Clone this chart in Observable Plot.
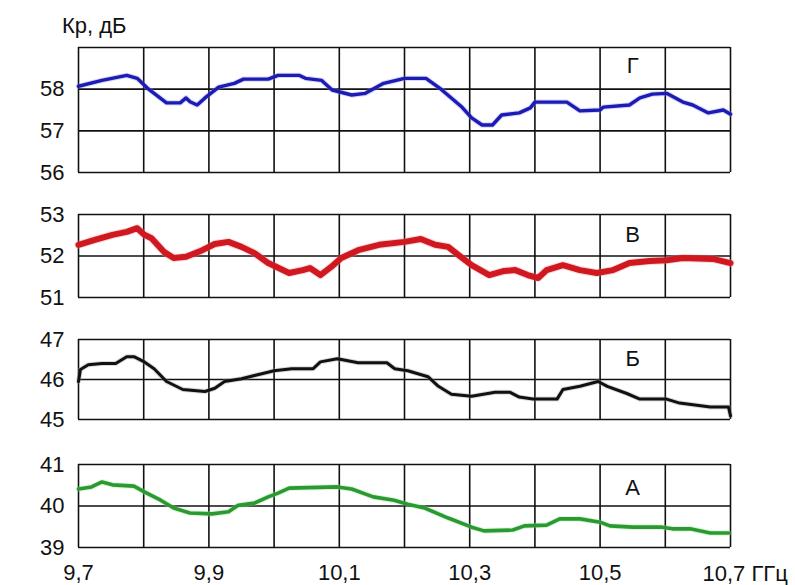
<!DOCTYPE html>
<html>
<head>
<meta charset="utf-8">
<script src="https://cdn.jsdelivr.net/npm/d3@7"></script>
<script src="https://cdn.jsdelivr.net/npm/@observablehq/plot@0.6"></script>
<style>
  body { margin: 0; background: #fff; }
  #chart { position: relative; width: 795px; height: 585px; background: #fff; font-family: "Liberation Sans", Arial, sans-serif; }
  #title { position: absolute; left: 62px; top: 15px; font-size: 22px; line-height: 22px; color: #111; }
  #chart svg text { font-size: 22px; font-family: "Liberation Sans", Arial, sans-serif; }
</style>
</head>
<body>
<div id="chart"><div id="title">Кр, дБ</div></div>
<script>
// X grid (GHz) and tick labels
const xGrid = [9.7, 9.8, 9.9, 10.0, 10.1, 10.2, 10.3, 10.4, 10.5, 10.6, 10.7];
const xTicks = [9.7, 9.9, 10.1, 10.3, 10.5];
const xLastTick = 10.7;
const xUnit = "ГГц";

// Curve Г (blue)
const gX = [9.700, 9.736, 9.774, 9.790, 9.806, 9.835, 9.856, 9.865, 9.871, 9.882, 9.894, 9.915, 9.939, 9.953, 9.991, 10.006, 10.039, 10.048, 10.073, 10.089, 10.119, 10.140, 10.168, 10.200, 10.233, 10.256, 10.288, 10.303, 10.319, 10.335, 10.349, 10.376, 10.393, 10.400, 10.449, 10.469, 10.500, 10.505, 10.545, 10.561, 10.580, 10.602, 10.627, 10.642, 10.666, 10.689, 10.700];
const gY = [58.07, 58.21, 58.33, 58.26, 58.02, 57.67, 57.67, 57.79, 57.70, 57.62, 57.79, 58.05, 58.14, 58.24, 58.24, 58.33, 58.33, 58.26, 58.21, 57.98, 57.86, 57.90, 58.14, 58.26, 58.26, 58.00, 57.57, 57.31, 57.14, 57.14, 57.38, 57.43, 57.55, 57.69, 57.69, 57.48, 57.50, 57.57, 57.62, 57.79, 57.88, 57.90, 57.69, 57.62, 57.43, 57.50, 57.40];

// Curve В (red)
const vX = [9.700, 9.725, 9.752, 9.774, 9.790, 9.801, 9.812, 9.831, 9.846, 9.865, 9.890, 9.909, 9.930, 9.950, 9.970, 9.991, 10.023, 10.044, 10.055, 10.071, 10.087, 10.103, 10.129, 10.161, 10.200, 10.225, 10.247, 10.267, 10.283, 10.303, 10.330, 10.353, 10.370, 10.389, 10.405, 10.418, 10.443, 10.469, 10.495, 10.520, 10.545, 10.576, 10.602, 10.627, 10.673, 10.700];
const vY = [52.27, 52.39, 52.51, 52.58, 52.67, 52.51, 52.43, 52.10, 51.95, 51.98, 52.14, 52.29, 52.34, 52.22, 52.07, 51.83, 51.59, 51.66, 51.71, 51.54, 51.73, 51.95, 52.14, 52.27, 52.34, 52.41, 52.27, 52.22, 52.02, 51.78, 51.54, 51.64, 51.66, 51.54, 51.47, 51.66, 51.78, 51.66, 51.59, 51.66, 51.83, 51.88, 51.90, 51.95, 51.93, 51.83];

// Curve Б (black)
const bX = [9.700, 9.703, 9.715, 9.736, 9.757, 9.774, 9.785, 9.801, 9.816, 9.835, 9.860, 9.894, 9.909, 9.924, 9.950, 9.970, 10.000, 10.027, 10.060, 10.071, 10.097, 10.129, 10.173, 10.185, 10.205, 10.236, 10.252, 10.272, 10.303, 10.339, 10.362, 10.376, 10.397, 10.434, 10.443, 10.469, 10.497, 10.511, 10.541, 10.561, 10.602, 10.622, 10.669, 10.697, 10.700];
const bY = [45.95, 46.25, 46.37, 46.40, 46.40, 46.57, 46.57, 46.44, 46.27, 45.95, 45.75, 45.70, 45.78, 45.95, 46.02, 46.10, 46.22, 46.27, 46.27, 46.44, 46.52, 46.42, 46.42, 46.27, 46.22, 46.07, 45.83, 45.63, 45.58, 45.68, 45.68, 45.56, 45.51, 45.51, 45.75, 45.83, 45.95, 45.83, 45.65, 45.51, 45.51, 45.41, 45.31, 45.31, 45.09];

// Curve А (green)
const aX = [9.700, 9.720, 9.736, 9.752, 9.785, 9.801, 9.826, 9.846, 9.871, 9.905, 9.930, 9.945, 9.970, 9.991, 10.006, 10.023, 10.097, 10.119, 10.152, 10.184, 10.205, 10.231, 10.267, 10.303, 10.322, 10.366, 10.384, 10.418, 10.438, 10.469, 10.500, 10.515, 10.550, 10.595, 10.611, 10.638, 10.669, 10.697];
const aY = [40.41, 40.46, 40.58, 40.51, 40.48, 40.34, 40.14, 39.95, 39.83, 39.81, 39.86, 40.02, 40.07, 40.22, 40.31, 40.43, 40.46, 40.41, 40.22, 40.14, 40.04, 39.95, 39.71, 39.49, 39.40, 39.42, 39.52, 39.54, 39.69, 39.69, 39.61, 39.52, 39.49, 39.49, 39.45, 39.45, 39.35, 39.35];

// Panel labels and y ranges
const panelNames = ["Г", "В", "Б", "А"];
const panelYDomains = [[56, 59], [51, 53], [45, 47], [39, 41]];
const panelYTicks = [[56, 57, 58], [51, 52, 53], [45, 46, 47], [39, 40, 41]];
const panelGrid = [[56, 57, 58, 59], [51, 52, 53], [45, 46, 47], [39, 40, 41]];
const panelLabelY = [58.55, 52.5, 46.52, 40.43];
const panelLabelX = 10.55;

const seriesX = [gX, vX, bX, aX];
const seriesY = [gY, vY, bY, aY];

// Layout / style (not data)
const colors = ["#1c1cb4", "#cf1820", "#111111", "#2a9a30"];
const halos = ["#8c8cf0", "#f08c90", "#999999", "#9be39f"];
const widths = [3.4, 6, 3, 3.6];
const frameTops = [47, 214, 339, 464];
const plotHeights = [125, 83, 80, 83];
const FONT = '"Liberation Sans", Arial, sans-serif';
const FS = 22;

const chart = document.getElementById("chart");
const fmtX = d => d.toFixed(1).replace(".", ",");
const fmtY = d => d.toFixed(0);

panelNames.forEach((name, i) => {
  const data = seriesX[i].map((x, j) => ({x, y: seriesY[i][j]}));
  const isLast = i === panelNames.length - 1;
  const mb = isLast ? 36 : 10;
  const marks = [
    Plot.ruleX(xGrid, {stroke: "#111", strokeWidth: 1.6}),
    Plot.ruleY(panelGrid[i], {stroke: "#111", strokeWidth: 1.6}),
    Plot.line(data, {x: "x", y: "y", stroke: halos[i], strokeWidth: widths[i] + 2, strokeOpacity: 0.35, strokeLinejoin: "round"}),
    Plot.line(data, {x: "x", y: "y", stroke: colors[i], strokeWidth: widths[i], strokeLinejoin: "round", strokeLinecap: "round"}),
    Plot.text([name], {x: () => panelLabelX, y: () => panelLabelY[i], text: d => d, fontSize: FS, fill: "#111"}),
    Plot.axisY({ticks: panelYTicks[i], tickSize: 0, tickPadding: 14, tickFormat: fmtY, label: null, fontSize: FS, fill: "#111"})
  ];
  if (isLast) {
    marks.push(Plot.axisX({ticks: xTicks, tickSize: 0, tickPadding: 17, tickFormat: fmtX, label: null, fontSize: FS, fill: "#111"}));
    marks.push(Plot.text([fmtX(xLastTick) + " " + xUnit], {x: () => xLastTick, y: () => panelYDomains[i][0], text: d => d, textAnchor: "start", dx: -28, dy: 26, fontSize: FS, fill: "#111"}));
  }
  const svg = Plot.plot({
    width: 795,
    height: plotHeights[i] + 10 + mb,
    marginLeft: 78,
    marginRight: 65,
    marginTop: 10,
    marginBottom: mb,
    x: {domain: [9.7, 10.7], axis: null},
    y: {domain: panelYDomains[i], axis: null},
    style: {fontFamily: FONT, fontSize: FS + "px", color: "#111", background: "transparent", overflow: "visible"},
    marks
  });
  svg.style.position = "absolute";
  svg.style.top = frameTops[i] - 10 + "px";
  svg.style.left = "0px";
  chart.appendChild(svg);
});
</script>
</body>
</html>
